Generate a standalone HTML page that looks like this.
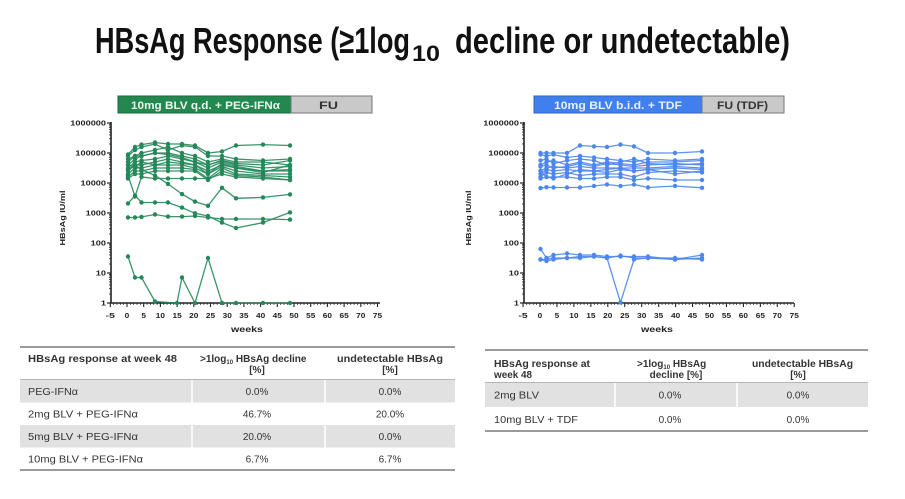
<!DOCTYPE html>
<html><head><meta charset="utf-8"><style>
html,body{margin:0;padding:0;background:#fff;}
svg{display:block;}
text{font-family:"Liberation Sans",Arial,sans-serif;}
</style></head><body>
<svg id="s" width="905" height="499" viewBox="0 0 905 499" xmlns="http://www.w3.org/2000/svg">
<rect width="905" height="499" fill="#fff"/>
<!-- Title -->
<text x="95" y="53" font-size="36" font-weight="bold" fill="#111" textLength="315" lengthAdjust="spacingAndGlyphs">HBsAg Response (≥1log</text>
<text x="412" y="61" font-size="22" font-weight="bold" fill="#111" textLength="28" lengthAdjust="spacingAndGlyphs">10</text>
<text x="455" y="53" font-size="36" font-weight="bold" fill="#111" textLength="335" lengthAdjust="spacingAndGlyphs">decline or undetectable)</text>

<!-- Banners -->
<rect x="118" y="96" width="173" height="17" fill="#23884f" stroke="#1a6a3c" stroke-width="1"/>
<rect x="291" y="96" width="81" height="17" fill="#c9c9c9" stroke="#777" stroke-width="1"/>
<text x="131" y="109" font-size="11" font-weight="bold" fill="#eef5ee" textLength="149" lengthAdjust="spacingAndGlyphs">10mg BLV q.d. + PEG-IFNα</text>
<text x="319" y="109" font-size="11" font-weight="bold" fill="#333" textLength="19" lengthAdjust="spacingAndGlyphs">FU</text>

<rect x="534" y="96" width="168" height="17" fill="#3f80ee" stroke="#2f63c0" stroke-width="1"/>
<rect x="702" y="96" width="82" height="17" fill="#c9c9c9" stroke="#777" stroke-width="1"/>
<text x="554" y="109" font-size="11" font-weight="bold" fill="#eaf0fb" textLength="128" lengthAdjust="spacingAndGlyphs">10mg BLV b.i.d. + TDF</text>
<text x="717" y="109" font-size="11" font-weight="bold" fill="#333" textLength="51" lengthAdjust="spacingAndGlyphs">FU (TDF)</text>

<g id="charts"></g>

<!-- Left table -->
<rect x="20" y="380" width="435" height="22.5" fill="#e1e1e1"/>
<rect x="20" y="425" width="435" height="22.5" fill="#e1e1e1"/>
<line x1="192" y1="380" x2="192" y2="470" stroke="#fff" stroke-width="1.5"/>
<line x1="325" y1="380" x2="325" y2="470" stroke="#fff" stroke-width="1.5"/>
<line x1="20" y1="347" x2="455" y2="347" stroke="#9a9a9a" stroke-width="2"/>
<line x1="20" y1="379.5" x2="455" y2="379.5" stroke="#b5b5b5" stroke-width="1"/>
<line x1="20" y1="470" x2="455" y2="470" stroke="#9a9a9a" stroke-width="2"/>
<g font-size="10" fill="#333">
<text x="28" y="362" font-weight="bold" textLength="149" lengthAdjust="spacingAndGlyphs">HBsAg response at week 48</text>
<text x="200" y="362" font-weight="bold">&gt;1log<tspan font-size="6" dy="2">10</tspan><tspan dy="-2"> HBsAg decline</tspan></text>
<text x="257" y="373" font-weight="bold" text-anchor="middle">[%]</text>
<text x="337" y="362" font-weight="bold" textLength="106" lengthAdjust="spacingAndGlyphs">undetectable HBsAg</text>
<text x="390" y="373" font-weight="bold" text-anchor="middle">[%]</text>
<text x="28" y="395" textLength="50" lengthAdjust="spacingAndGlyphs">PEG-IFNα</text>
<text x="28" y="417.5" textLength="110" lengthAdjust="spacingAndGlyphs">2mg BLV + PEG-IFNα</text>
<text x="28" y="440" textLength="110" lengthAdjust="spacingAndGlyphs">5mg BLV + PEG-IFNα</text>
<text x="28" y="462.5" textLength="115" lengthAdjust="spacingAndGlyphs">10mg BLV + PEG-IFNα</text>
<text x="257" y="395" text-anchor="middle">0.0%</text>
<text x="257" y="417.5" text-anchor="middle">46.7%</text>
<text x="257" y="440" text-anchor="middle">20.0%</text>
<text x="257" y="462.5" text-anchor="middle">6.7%</text>
<text x="390" y="395" text-anchor="middle">0.0%</text>
<text x="390" y="417.5" text-anchor="middle">20.0%</text>
<text x="390" y="440" text-anchor="middle">0.0%</text>
<text x="390" y="462.5" text-anchor="middle">6.7%</text>
</g>

<!-- Right table -->
<rect x="485" y="383" width="383" height="24" fill="#e1e1e1"/>
<line x1="615" y1="383" x2="615" y2="431" stroke="#fff" stroke-width="1.5"/>
<line x1="737" y1="383" x2="737" y2="431" stroke="#fff" stroke-width="1.5"/>
<line x1="485" y1="350" x2="868" y2="350" stroke="#9a9a9a" stroke-width="2"/>
<line x1="485" y1="382.5" x2="868" y2="382.5" stroke="#b5b5b5" stroke-width="1"/>
<line x1="485" y1="431" x2="868" y2="431" stroke="#9a9a9a" stroke-width="2"/>
<g font-size="10" fill="#333">
<text x="494" y="367" font-weight="bold" textLength="96" lengthAdjust="spacingAndGlyphs">HBsAg response at</text>
<text x="494" y="378" font-weight="bold" textLength="38" lengthAdjust="spacingAndGlyphs">week 48</text>
<text x="637" y="367" font-weight="bold">&gt;1log<tspan font-size="6" dy="2">10</tspan><tspan dy="-2"> HBsAg</tspan></text>
<text x="676" y="378" font-weight="bold" text-anchor="middle">decline [%]</text>
<text x="752" y="367" font-weight="bold" textLength="101" lengthAdjust="spacingAndGlyphs">undetectable HBsAg</text>
<text x="798" y="378" font-weight="bold" text-anchor="middle">[%]</text>
<text x="494" y="398.5" textLength="45" lengthAdjust="spacingAndGlyphs">2mg BLV</text>
<text x="494" y="423" textLength="84" lengthAdjust="spacingAndGlyphs">10mg BLV + TDF</text>
<text x="670" y="398.5" text-anchor="middle">0.0%</text>
<text x="670" y="423" text-anchor="middle">0.0%</text>
<text x="798" y="398.5" text-anchor="middle">0.0%</text>
<text x="798" y="423" text-anchor="middle">0.0%</text>
</g>
</svg>
<script>
(function(){
var NS='http://www.w3.org/2000/svg';
var root=document.getElementById('charts');
function el(n,a,p){var e=document.createElementNS(NS,n);for(var k in a)e.setAttribute(k,a[k]);(p||root).appendChild(e);return e;}
function Y(d){return 303-30*d;}
function axes(ax,x0u,pxu,xEnd,titleX,weeksX){
  var g=el('g',{});
  el('line',{x1:ax,y1:122,x2:ax,y2:303.5,stroke:'#222','stroke-width':1.6},g);
  var labs=['1','10','100','1000','10000','100000','1000000'];
  for(var d=0;d<=6;d++){
    el('line',{x1:ax-4,y1:Y(d),x2:ax,y2:Y(d),stroke:'#222','stroke-width':1.2},g);
    if(d<6){for(var m=2;m<=9;m++){var yy=Y(d+Math.log10(m));el('line',{x1:ax-2,y1:yy,x2:ax,y2:yy,stroke:'#222','stroke-width':0.8},g);}}
    var t=el('text',{x:ax-5,y:Y(d)+2.5,'font-size':7.5,'font-weight':'bold',fill:'#222','text-anchor':'end',textLength:labs[d].length*5.1,lengthAdjust:'spacingAndGlyphs'},g);
    t.textContent=labs[d];
  }
  el('line',{x1:ax,y1:303,x2:xEnd,y2:303,stroke:'#222','stroke-width':1.6},g);
  for(var w=-5;w<=75;w++){
    var xx=x0u+pxu*w;
    var maj=(w%5===0);
    el('line',{x1:xx,y1:303,x2:xx,y2:303+(maj?4:2),stroke:'#222','stroke-width':maj?1.1:0.7},g);
    if(maj){var t2=el('text',{x:xx,y:318,'font-size':7.5,'font-weight':'bold',fill:'#222','text-anchor':'middle',textLength:String(w).length*4.6,lengthAdjust:'spacingAndGlyphs'},g);t2.textContent=String(w);}
  }
  var wt=el('text',{x:weeksX-16,y:332,'font-size':8,'font-weight':'bold',fill:'#222',textLength:32,lengthAdjust:'spacingAndGlyphs'},g);wt.textContent='weeks';
  var yt=el('text',{x:0,y:0,'font-size':7,'font-weight':'bold',fill:'#222','text-anchor':'middle',textLength:55,lengthAdjust:'spacingAndGlyphs',transform:'translate('+titleX+',218) rotate(-90)'},g);yt.textContent='HBsAg IU/ml';
}
function series(xs,vals,color){
  var pts=[];for(var i=0;i<vals.length;i++){if(vals[i]==null)continue;pts.push(xs[i].toFixed(1)+','+Y(vals[i]).toFixed(1));}
  el('polyline',{points:pts.join(' '),fill:'none',stroke:color,'stroke-width':1.3,'stroke-opacity':0.9});
  for(var j=0;j<vals.length;j++){if(vals[j]==null)continue;el('circle',{cx:xs[j],cy:Y(vals[j]),r:2.2,fill:color});}
}
axes(111,127,3.34,380,65,247);
var GX=[128,135,141.5,155,168,182,195,208,222,236,263,290];
var G='#25885a';
var L=[
[4.95,5.2,5.28,5.35,5.3,5.3,5.25,5.0,5.05,5.25,5.28,5.25],
[4.9,5.1,5.2,5.3,5.1,5.25,5.2,4.9,4.9,4.8,4.75,4.8],
[4.7,4.9,5.0,5.1,5.2,5.0,4.9,4.7,4.8,4.7,4.7,4.6],
[4.6,4.8,4.9,5.0,5.0,4.9,4.8,4.6,4.75,4.6,4.5,4.55],
[4.5,4.7,4.75,4.8,4.9,4.8,4.7,4.5,4.7,4.55,4.4,4.45],
[4.4,4.6,4.6,4.7,4.8,4.7,4.6,4.4,4.6,4.5,4.35,4.6],
[4.3,4.5,4.5,4.6,4.6,4.6,4.5,4.3,4.55,4.4,4.3,4.3],
[4.2,4.4,4.4,4.5,4.5,4.5,4.45,4.15,4.5,4.3,4.25,4.2],
[4.15,4.3,4.3,4.4,4.4,4.4,4.4,4.1,4.4,4.25,4.2,4.1],
[4.25,3.55,4.2,4.15,4.15,4.15,4.15,4.15,4.3,4.2,4.15,4.1],
[4.8,4.9,4.9,5.0,4.95,4.85,4.7,4.6,4.75,4.65,4.6,4.75],
[4.6,4.55,4.7,4.6,4.7,4.65,4.6,4.3,4.65,4.5,4.4,4.4],
[4.45,4.6,4.45,4.25,3.97,3.63,3.38,3.24,3.84,3.49,3.52,3.62],
[3.32,3.58,3.35,3.35,3.35,3.18,2.99,2.9,2.68,2.5,2.68,3.02],
[2.85,2.85,2.87,2.95,2.88,2.88,2.9,2.85,2.8,2.8,2.8,2.78]
];
for(var i=0;i<L.length;i++)series(GX,L[i],G);
series([128,135,141.5,155,177,182,195,208,222,236,263,290],[1.55,0.85,0.85,0.05,0,0.85,0,1.5,0,0,0,0],G);
axes(524,540,3.39,794,471,657);
var BX=[540.5,546.5,553.5,567,580,594,607,620.5,634,648,675,702];
var B='#4d86ee';
var R=[
[5.0,5.0,5.0,5.0,5.25,5.22,5.2,5.28,5.22,5.0,5.0,5.05],
[4.95,4.9,4.95,4.85,4.9,4.85,4.8,4.75,4.7,4.8,4.75,4.8],
[4.6,4.7,4.75,4.6,4.7,4.6,4.7,4.65,4.6,4.7,4.7,4.75],
[4.55,4.6,4.5,4.55,4.65,4.55,4.65,4.6,4.55,4.6,4.65,4.6],
[4.4,4.5,4.55,4.5,4.55,4.5,4.5,4.5,4.5,4.5,4.55,4.5],
[4.3,4.45,4.4,4.45,4.4,4.4,4.35,4.45,4.4,4.45,4.5,4.45],
[4.2,4.35,4.3,4.35,4.25,4.3,4.3,4.3,4.2,4.35,4.4,4.35],
[4.15,4.2,4.2,4.2,4.15,4.15,4.2,4.2,4.1,4.15,4.1,4.1],
[3.83,3.86,3.85,3.85,3.85,3.9,3.95,3.9,3.95,3.85,3.9,3.84],
[4.4,4.2,4.15,4.3,4.45,4.4,4.45,4.5,4.4,4.45,4.3,4.4],
[4.75,4.8,4.65,4.75,4.8,4.75,4.6,4.7,4.8,4.65,4.6,4.65]
];
for(var k=0;k<R.length;k++)series(BX,R[k],B);
series(BX,[1.8,1.5,1.6,1.65,1.6,1.6,1.55,1.55,1.55,1.55,1.45,1.6],B);
series(BX,[1.45,1.45,1.5,1.5,1.55,1.55,1.5,0.02,1.45,1.5,1.45,1.5],B);
series(BX,[1.45,1.4,1.45,1.5,1.5,1.55,1.5,1.58,1.5,1.5,1.5,1.45],B);
})();
</script>
</body></html>
